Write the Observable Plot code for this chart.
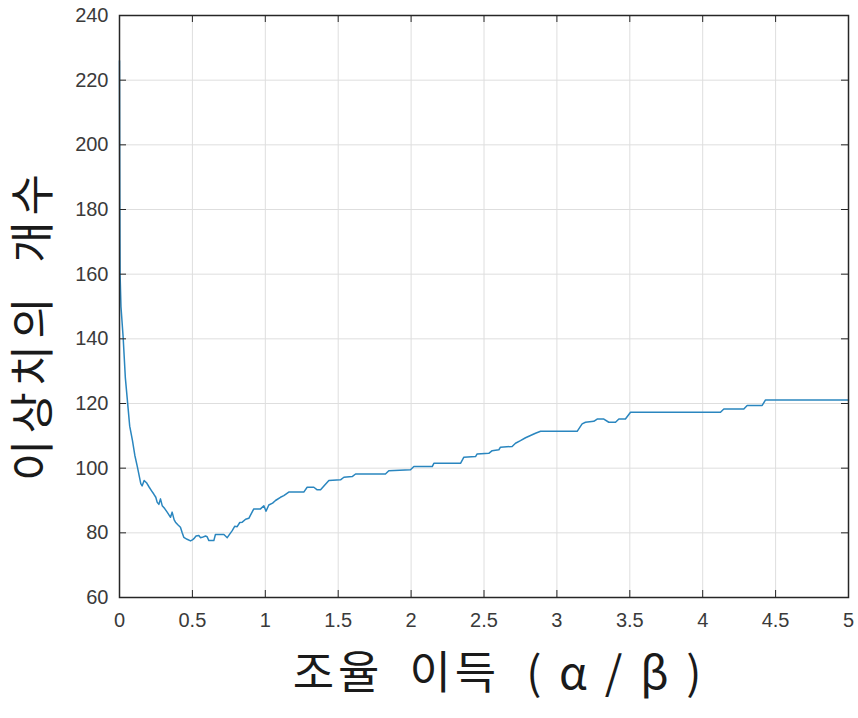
<!DOCTYPE html>
<html><head><meta charset="utf-8">
<script src="https://cdn.jsdelivr.net/npm/d3@7"></script>
<script src="https://cdn.jsdelivr.net/npm/@observablehq/plot@0.6"></script>
<style>
body{margin:0;background:#fff}
g[aria-description="xlabel"] text{letter-spacing:3.8px}
g[aria-description="ylabel"] text{letter-spacing:6px}
</style>
</head><body><div id="chart"></div>
<script>
const xValues = [0,0.001,0.002,0.003,0.004,0.01,0.025,0.04,0.055,0.07,0.089,0.105,0.123,0.146,0.155,0.169,0.185,0.204,0.22,0.235,0.249,0.258,0.27,0.281,0.293,0.31,0.327,0.35,0.361,0.375,0.384,0.40,0.418,0.43,0.441,0.464,0.487,0.5,0.51,0.525,0.544,0.555,0.567,0.59,0.601,0.613,0.647,0.658,0.716,0.739,0.773,0.79,0.807,0.825,0.842,0.865,0.887,0.921,0.967,0.99,1.005,1.024,1.05,1.07,1.104,1.127,1.161,1.264,1.287,1.333,1.356,1.379,1.436,1.516,1.539,1.596,1.619,1.824,1.847,1.996,2.019,2.145,2.156,2.339,2.362,2.442,2.453,2.533,2.556,2.602,2.613,2.693,2.716,2.75,2.785,2.819,2.853,2.888,3.139,3.173,3.196,3.253,3.276,3.322,3.356,3.402,3.425,3.47,3.505,4.122,4.145,4.282,4.305,4.408,4.431,5.0];
const yValues = [226,200,183,170,160,150,140.5,128,120.5,113,108.5,104,100.3,95.2,94.5,96.2,95.5,94.1,93,92,91,89.5,88.8,90.5,88.4,87.5,86.4,84.8,86.4,84,83.3,82.5,81.7,80,78.6,78,77.5,77.8,78.2,79,79.2,78.5,78.6,79,78.8,77.6,77.6,79.5,79.5,78.5,80.7,82,81.9,83.2,83.3,84.2,84.5,87.4,87.4,88.4,86.7,88.6,89.2,90,91,91.5,92.6,92.6,94.1,94.1,93.3,93.3,96.2,96.4,97.2,97.4,98.2,98.2,99.2,99.5,100.5,100.5,101.5,101.5,103.4,103.6,104.4,104.6,105.4,105.7,106.5,106.7,107.7,108.5,109.4,110.1,110.8,111.4,111.4,113.7,114.2,114.5,115.2,115.2,114.2,114.2,115.2,115.2,117.3,117.3,118.3,118.3,119.4,119.4,121.1,121.1];
const xTicks = [0,0.5,1,1.5,2,2.5,3,3.5,4,4.5,5];
const yTicks = [60,80,100,120,140,160,180,200,220,240];
const xLabel = "조율\u2002이득\u2002( α / β )";
const yLabel = "이상치의\u2002개수";

const data = xValues.map((x, i) => ({x, y: yValues[i]}));
const W = 858, H = 718, mL = 119, mR = 10, mT = 15, mB = 121;
const innerH = H - mT - mB, innerW = W - mL - mR, tk = 7;
const axisColor = "#262626";
const chart = Plot.plot({
  width: W, height: H, marginLeft: mL, marginRight: mR, marginTop: mT, marginBottom: mB,
  style: {fontFamily: "'Liberation Sans', Arial, sans-serif", fontSize: "20px", color: "#3a3a3a", background: "#fff"},
  x: {domain: [0, 5]},
  y: {domain: [60, 240]},
  marks: [
    Plot.gridX(xTicks, {stroke: "#dedede", strokeOpacity: 1}),
    Plot.gridY(yTicks, {stroke: "#dedede", strokeOpacity: 1}),
    Plot.line(data, {x: "x", y: "y", stroke: "#2a86bf", strokeWidth: 1.5}),
    Plot.tickX(xTicks, {x: d => d, insetTop: innerH - tk, stroke: axisColor}),
    Plot.tickX(xTicks, {x: d => d, insetBottom: innerH - tk, stroke: axisColor}),
    Plot.tickY(yTicks, {y: d => d, insetRight: innerW - tk, stroke: axisColor}),
    Plot.tickY(yTicks, {y: d => d, insetLeft: innerW - tk, stroke: axisColor}),
    Plot.frame({stroke: axisColor, strokeWidth: 1.5}),
    Plot.axisX(xTicks, {tickSize: 0, tickPadding: 15, tickFormat: d => String(d), fontSize: 20, label: null}),
    Plot.axisY(yTicks, {tickSize: 0, tickPadding: 11, tickFormat: d => String(d), fontSize: 20, label: null}),
    Plot.text([xLabel], {frameAnchor: "bottom", dy: 91, dx: 15, textAnchor: "middle", fontSize: 45, fontFamily: "'Noto Sans CJK KR', sans-serif", fill: "#1a1a1a", ariaDescription: "xlabel"}),
    Plot.text([yLabel], {frameAnchor: "left", rotate: -90, dx: -85, dy: 18, textAnchor: "middle", fontSize: 45, fontFamily: "'Noto Sans CJK KR', sans-serif", fill: "#1a1a1a", ariaDescription: "ylabel"})
  ]
});
document.getElementById("chart").appendChild(chart);
</script>
</body></html>
